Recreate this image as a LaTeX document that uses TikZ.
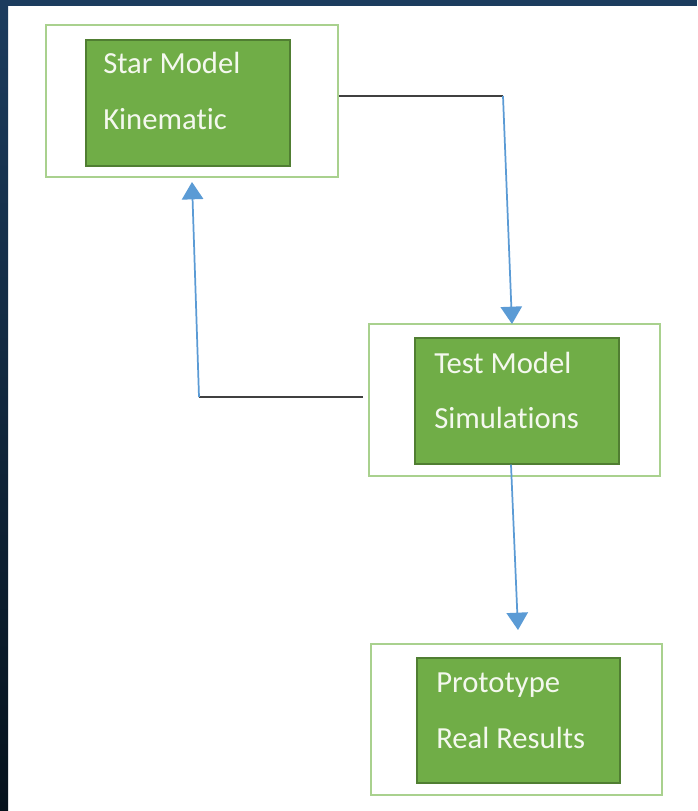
\documentclass[tikz,border=0pt]{standalone}
\usepackage{fontspec}
\setmainfont[Ligatures=NoCommon]{Carlito}
\usetikzlibrary{arrows.meta}
\definecolor{frameblue}{HTML}{1C3C5E}
\definecolor{framedark}{HTML}{06121C}
\definecolor{innergreen}{HTML}{70AD47}
\definecolor{innerborder}{HTML}{507E32}
\definecolor{outergreen}{HTML}{A9D18E}
\definecolor{arrowblue}{HTML}{5B9BD5}
\definecolor{linegray}{HTML}{404040}
\definecolor{textwhite}{HTML}{F4F8EE}
\tikzset{
  outerbox/.style={draw=outergreen, line width=1.3pt, fill=white, inner sep=0pt},
  innerbox/.style={draw=innerborder, line width=0.9pt, fill=innergreen, inner sep=0pt},
  lbl/.style={anchor=base west, inner sep=0pt, text=textwhite, font=\fontsize{23}{27}\selectfont},
  blackline/.style={draw=linegray, line width=1.3pt},
  bluearrow/.style={draw=arrowblue, line width=1.3pt, -{Triangle[length=13pt,width=16pt]}}
}
\begin{document}
\begin{tikzpicture}[x=0.75pt,y=-0.75pt]
\useasboundingbox (0,0) rectangle (697,811);
\fill[white] (0,0) rectangle (697,811);
\shade[top color=frameblue, bottom color=framedark] (0,0) rectangle (8,811);
\fill[frameblue] (0,0) rectangle (697,6);

% box 1
\node[outerbox, minimum width=219pt, minimum height=114pt] (o1) at (192,101) {};
\node[innerbox, minimum width=153pt, minimum height=94.5pt] (i1) at (188,103) {};
\node[lbl] (t1a) at (103,73) {Star Model};
\node[lbl] (t1b) at (103,129) {Kinematic};

% box 2
\node[outerbox, minimum width=218.25pt, minimum height=114pt] (o2) at (514.5,400) {};
\node[innerbox, minimum width=153pt, minimum height=94.5pt] (i2) at (517,401) {};
\node[lbl] (t2a) at (434,373) {Test Model};
\node[lbl] (t2b) at (434,428) {Simulations};

% box 3
\node[outerbox, minimum width=218.25pt, minimum height=113.25pt] (o3) at (516.5,719.5) {};
\node[innerbox, minimum width=152.25pt, minimum height=93.75pt] (i3) at (518.5,720.5) {};
\node[lbl] (t3a) at (436,692) {Prototype};
\node[lbl] (t3b) at (436,748) {Real Results};

% connector 1
\coordinate (c1) at (503,96);
\coordinate (c1tip) at (512,324);
\draw[blackline] (o1.east |- c1) -- (c1);
\draw[bluearrow] (c1) -- (c1tip);

% connector 2
\coordinate (c2a) at (363,397);
\coordinate (c2) at (199,397);
\coordinate (c2tip) at (192,182);
\draw[blackline] (c2a) -- (c2);
\draw[bluearrow] (c2) -- (c2tip);

% connector 3
\coordinate (c3tip) at (518,630);
\draw[bluearrow] (i2.south -| 511,0) -- (c3tip);
\end{tikzpicture}
\end{document}
